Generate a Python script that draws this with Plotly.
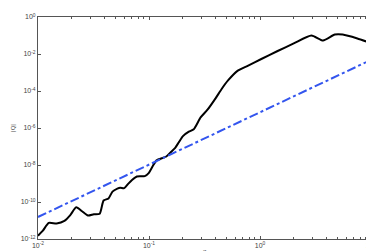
import plotly.graph_objects as go

sigma = [0.0100, 0.01107, 0.01250, 0.01472, 0.01730, 0.01954, 0.02208, 0.02495,
         0.02818, 0.03184, 0.03597, 0.03899, 0.04315, 0.04688, 0.05188, 0.05508,
         0.05984, 0.06486, 0.07031, 0.07780, 0.09162, 0.09931, 0.1079, 0.1169,
         0.1432, 0.1585, 0.1722, 0.1866, 0.2023, 0.2286, 0.2529, 0.2917, 0.3365,
         0.3963, 0.4560, 0.5152, 0.6310, 0.7745, 1.028, 1.426, 2.014, 2.904,
         3.698, 4.721, 5.559, 7.534, 10.0]
Q = [1.51e-12, 2.82e-12, 7.41e-12, 6.92e-12, 9.55e-12, 1.95e-11, 5.13e-11, 3.16e-11,
     1.86e-11, 2.19e-11, 2.34e-11, 1.20e-10, 1.55e-10, 3.63e-10, 5.25e-10, 5.89e-10,
     5.6e-10, 9.55e-10, 1.55e-9, 2.40e-9, 2.51e-9, 3.63e-9, 8.51e-9, 1.78e-8,
     2.88e-8, 5.25e-8, 8.51e-8, 1.78e-7, 3.63e-7, 6.31e-7, 8.51e-7, 3.72e-6, 9.77e-6,
     3.89e-5, 1.41e-4, 3.72e-4, 1.26e-3, 2.29e-3, 5.37e-3, 1.41e-2, 3.72e-2, 1.00e-1,
     5.37e-2, 1.12e-1, 1.12e-1, 6.92e-2, 3.89e-2]

ref_sigma = [0.01, 10.0]
ref_Q = [1.55e-11, 4.79e-3]

x_tickvals = [0.01, 0.1, 1, 10]
x_ticktext = ["10<sup>-2</sup>", "10<sup>-1</sup>", "10<sup>0</sup>", "10<sup>1</sup>"]
y_tickvals = [1e-12, 1e-10, 1e-8, 1e-6, 1e-4, 1e-2, 1]
y_ticktext = ["10<sup>-12</sup>", "10<sup>-10</sup>", "10<sup>-8</sup>", "10<sup>-6</sup>",
              "10<sup>-4</sup>", "10<sup>-2</sup>", "10<sup>0</sup>"]

fig = go.Figure()
fig.add_trace(go.Scatter(x=sigma, y=Q, mode="lines",
                         line=dict(color="black", width=2, shape="spline", smoothing=0.6),
                         showlegend=False))
fig.add_trace(go.Scatter(x=ref_sigma, y=ref_Q, mode="lines",
                         line=dict(color="#3355ee", width=2, dash="dashdot"),
                         showlegend=False))

axis_common = dict(showgrid=False, zeroline=False, showline=True, mirror="ticks",
                   linecolor="#555", linewidth=1, ticks="inside", ticklen=3,
                   tickcolor="#555",
                   tickfont=dict(size=7, color="#444", family="Liberation Sans"))

fig.update_xaxes(type="log", range=[-2, 1], tickvals=x_tickvals, ticktext=x_ticktext,
                 minor=dict(ticks="inside", ticklen=2, dtick="D1", tickcolor="#555"),
                 ticklabelstandoff=0,
                 title=dict(text="σ", font=dict(size=6, color="#444"), standoff=0),
                 **axis_common)
fig.update_yaxes(type="log", range=[-12, 0], tickvals=y_tickvals, ticktext=y_ticktext,
                 title=dict(text="|Q|", font=dict(size=6, color="#444"), standoff=4),
                 **axis_common)

fig.update_layout(width=374, height=251, margin=dict(l=29, r=6, t=5, b=19),
                  plot_bgcolor="white", paper_bgcolor="white",
                  font=dict(family="Liberation Sans", size=7, color="#444"))

fig.write_html("out.html")
